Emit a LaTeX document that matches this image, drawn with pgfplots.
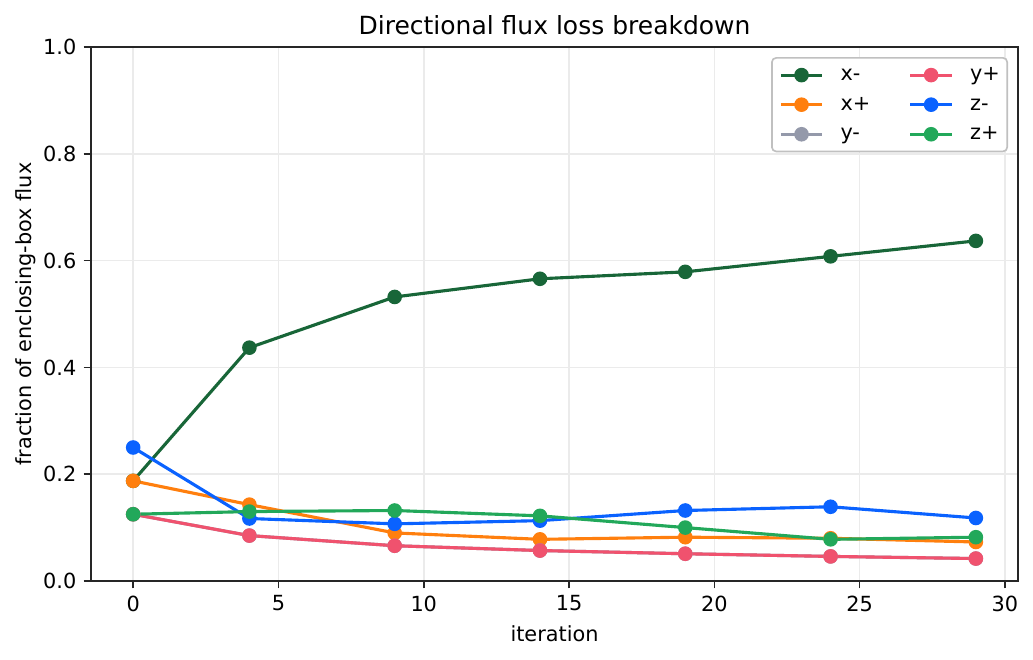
\documentclass[border=0pt]{standalone}
\usepackage{fontspec}
\setmainfont{DejaVu Sans}
\usepackage{pgfplots}
\pgfplotsset{compat=1.18}

\definecolor{cxm}{HTML}{186638}
\definecolor{cxp}{HTML}{FF7F0E}
\definecolor{cym}{HTML}{9499AA}
\definecolor{cyp}{HTML}{F0526E}
\definecolor{czm}{HTML}{0A62FF}
\definecolor{czp}{HTML}{22A85A}
\definecolor{gridc}{HTML}{EBEBEB}
\definecolor{spine}{HTML}{262626}

\begin{document}
\begin{tikzpicture}
  \begin{axis}[
      scale only axis,
      width=445pt, height=256.3pt,
      xmin=-1.45, xmax=30.45, ymin=0, ymax=1,
      xtick={0,5,...,30}, ytick={0,0.2,...,1.0},
      yticklabel style={/pgf/number format/.cd,fixed,fixed zerofill,precision=1},
      /pgf/number format/assume math mode=true,
      ticklabel style={font=\fontsize{10}{12}\selectfont},
      tick pos=left, tick align=outside,
      major tick length=3.5pt,
      every tick/.style={spine, line width=0.8pt},
      axis line style={spine, line width=0.8pt},
      grid=major,
      major grid style={gridc, line width=0.8pt},
      title={Directional flux loss breakdown},
      title style={anchor=base, inner sep=0pt, font=\fontsize{12}{14}\selectfont},
      xlabel={iteration},
      ylabel={fraction of enclosing-box flux},
      ylabel shift=-3.4pt,
      label style={font=\fontsize{10}{12}\selectfont},
      every axis plot/.append style={line width=1.5pt, mark=*, mark size=3pt, mark options={solid, line width=1pt}},
      legend columns=3,
      transpose legend,
      legend cell align=left,
      legend style={
        at={(1,1)}, anchor=north east, xshift=-4.8pt, yshift=-4.8pt,
        draw=gridc!60!gray, rounded corners=2pt, line width=0.8pt,
        font=\fontsize{10}{12}\selectfont,
        inner xsep=3.5pt, inner ysep=3.5pt,
        nodes={inner sep=0pt, text height=7.5pt, text depth=2pt},
        /tikz/every odd column/.append style={column sep=8pt},
        /tikz/every even column/.append style={column sep=18.5pt},
        row sep=4.7pt,
      },
      legend image code/.code={%
        \draw[mark repeat=2,mark phase=2] plot coordinates {(0cm,0cm)(0.35cm,0cm)(0.7cm,0cm)};},
    ]
    \addplot[color=cxm] coordinates {(0,0.1875)(4,0.437)(9,0.532)(14,0.566)(19,0.579)(24,0.608)(29,0.637)};
    \addlegendentry{x-}
    \addplot[color=cxp] coordinates {(0,0.1875)(4,0.143)(9,0.090)(14,0.078)(19,0.082)(24,0.080)(29,0.073)};
    \addlegendentry{x+}
    \addplot[color=cym] coordinates {(0,0.125)(4,0.085)(9,0.066)(14,0.057)(19,0.051)(24,0.046)(29,0.042)};
    \addlegendentry{y-}
    \addplot[color=cyp] coordinates {(0,0.125)(4,0.085)(9,0.066)(14,0.057)(19,0.051)(24,0.046)(29,0.042)};
    \addlegendentry{y+}
    \addplot[color=czm] coordinates {(0,0.25)(4,0.117)(9,0.107)(14,0.113)(19,0.132)(24,0.139)(29,0.118)};
    \addlegendentry{z-}
    \addplot[color=czp] coordinates {(0,0.125)(4,0.130)(9,0.132)(14,0.122)(19,0.100)(24,0.078)(29,0.082)};
    \addlegendentry{z+}
  \end{axis}
  \pgfresetboundingbox
  \path[use as bounding box] ([shift={(-43.7pt,-37.9pt)}]current axis.south west)
    rectangle ([shift={(7.2pt,22.6pt)}]current axis.north east);
\end{tikzpicture}
\end{document}
